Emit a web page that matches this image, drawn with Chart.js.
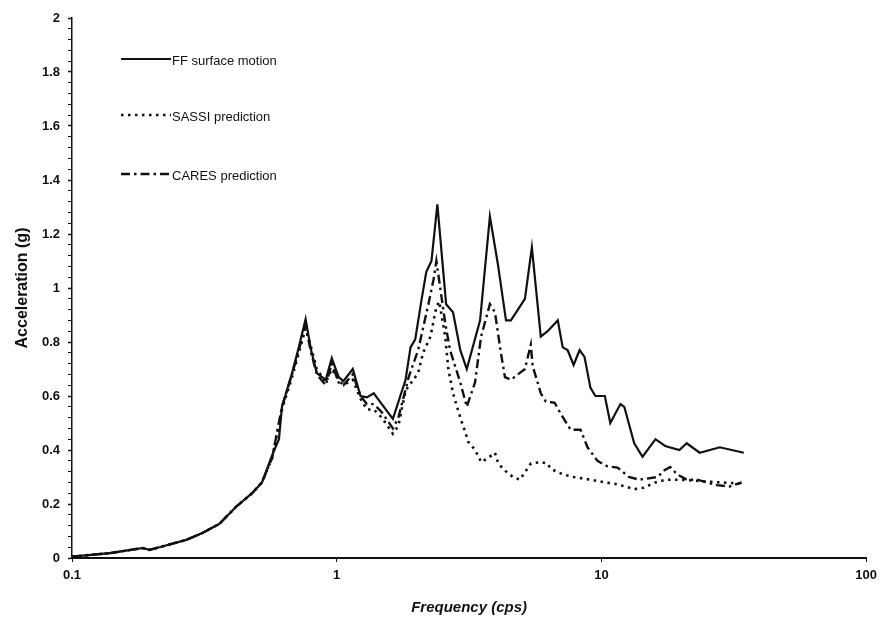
<!DOCTYPE html>
<html>
<head>
<meta charset="utf-8">
<script src="https://cdn.jsdelivr.net/npm/chart.js@4.4.1/dist/chart.umd.min.js"></script>
<style>
  html, body { margin: 0; padding: 0; background: #fff; }
  #wrap { width: 883px; height: 626px; }
</style>
</head>
<body>
<div id="wrap"><canvas id="myChart"></canvas></div>
<script>
// values (frequency in cps, acceleration in g)
var freqFF = [0.1, 0.139, 0.185, 0.196, 0.214, 0.270, 0.311, 0.360, 0.417, 0.479, 0.522, 0.570, 0.605, 0.621, 0.678, 0.719, 0.763,
  0.80, 0.841, 0.909, 0.958, 1.017, 1.06, 1.15, 1.23, 1.30, 1.38, 1.48, 1.63, 1.82, 1.90, 1.98, 2.09, 2.18, 2.28, 2.40,
  2.59, 2.75, 2.93, 3.10, 3.48, 3.79, 4.06, 4.36, 4.55, 5.14, 5.46, 5.90, 6.26, 6.84, 7.14, 7.45, 7.85, 8.27, 8.63,
  9.09, 9.49, 10.3, 10.8, 11.8, 12.2, 13.3, 14.3, 16.0, 17.4, 19.7, 21.0, 23.5, 28.0, 34.5];
var accFF = [0.005, 0.018, 0.037, 0.03, 0.04, 0.067, 0.093, 0.126, 0.19, 0.24, 0.28, 0.38, 0.44, 0.56, 0.685, 0.78, 0.885,
  0.77, 0.685, 0.66, 0.74, 0.67, 0.655, 0.70, 0.60, 0.595, 0.61, 0.57, 0.515, 0.66, 0.78, 0.81, 0.955, 1.06, 1.10, 1.31,
  0.94, 0.91, 0.77, 0.70, 0.88, 1.265, 1.09, 0.88, 0.88, 0.96, 1.15, 0.82, 0.84, 0.88, 0.78, 0.77, 0.715, 0.77, 0.745,
  0.63, 0.60, 0.60, 0.50, 0.57, 0.56, 0.425, 0.375, 0.44, 0.415, 0.40, 0.425, 0.39, 0.41, 0.39];

var freqSASSI = [0.1, 0.139, 0.185, 0.196, 0.214, 0.270, 0.311, 0.360, 0.417, 0.479, 0.522, 0.570, 0.621, 0.678, 0.719, 0.763,
  0.80, 0.841, 0.909, 0.958, 1.017, 1.06, 1.15, 1.23, 1.30, 1.38, 1.48, 1.63, 1.71, 1.82, 2.03, 2.12, 2.26, 2.38, 2.44,
  2.57, 2.64, 2.75, 2.93, 3.05, 3.14, 3.27, 3.42, 3.51, 3.73, 3.96, 4.06, 4.24, 4.63, 4.92, 5.41, 5.90, 6.26, 6.43,
  7.14, 7.85, 9.09, 10.3, 11.2, 12.3, 13.3, 14.4, 16.0, 17.5, 19.8, 23.5, 28.0, 34.5];
var accSASSI = [0.005, 0.018, 0.037, 0.03, 0.04, 0.067, 0.093, 0.126, 0.19, 0.24, 0.28, 0.37, 0.55, 0.67, 0.76, 0.85,
  0.78, 0.70, 0.65, 0.70, 0.66, 0.64, 0.66, 0.59, 0.55, 0.55, 0.52, 0.46, 0.49, 0.62, 0.685, 0.76, 0.82, 0.93, 0.95,
  0.82, 0.70, 0.61, 0.52, 0.47, 0.43, 0.41, 0.38, 0.355, 0.37, 0.39, 0.355, 0.33, 0.30, 0.29, 0.35, 0.355, 0.35, 0.33,
  0.31, 0.30, 0.29, 0.28, 0.275, 0.265, 0.255, 0.26, 0.28, 0.29, 0.29, 0.285, 0.28, 0.275];

var freqCARES = [0.1, 0.139, 0.185, 0.196, 0.214, 0.270, 0.311, 0.360, 0.417, 0.479, 0.522, 0.570, 0.621, 0.678, 0.719, 0.763,
  0.80, 0.841, 0.909, 0.958, 1.017, 1.06, 1.15, 1.23, 1.30, 1.38, 1.48, 1.63, 1.71, 1.87, 2.03, 2.22, 2.32, 2.38,
  2.57, 2.68, 2.93, 3.10, 3.33, 3.51, 3.79, 3.96, 4.17, 4.32, 4.55, 5.14, 5.41, 5.50, 5.74, 5.90, 6.16, 6.66, 7.01,
  7.65, 8.34, 8.86, 9.66, 10.5, 11.5, 12.7, 13.9, 16.3, 17.3, 18.2, 19.3, 21.0, 23.0, 25.0, 27.3, 30.5, 33.9];
var accCARES = [0.005, 0.018, 0.037, 0.03, 0.04, 0.067, 0.093, 0.126, 0.19, 0.24, 0.28, 0.37, 0.56, 0.68, 0.77, 0.86,
  0.76, 0.68, 0.64, 0.72, 0.65, 0.64, 0.68, 0.60, 0.57, 0.57, 0.54, 0.48, 0.52, 0.67, 0.77, 0.94, 1.03, 1.10,
  0.87, 0.77, 0.65, 0.56, 0.65, 0.82, 0.94, 0.91, 0.76, 0.67, 0.66, 0.70, 0.79, 0.71, 0.65, 0.61, 0.58, 0.575, 0.535,
  0.475, 0.475, 0.41, 0.36, 0.34, 0.335, 0.30, 0.29, 0.30, 0.325, 0.337, 0.31, 0.29, 0.29, 0.28, 0.27, 0.265, 0.28];

var seriesNames = ['FF surface motion', 'SASSI prediction', 'CARES prediction'];
var xTicks = [0.1, 1, 10, 100];
var yLabelStep = 0.2;   // labelled ticks
var yMinorStep = 0.04;  // small marks on the y axis

function toPoints(xs, ys) {
  return xs.map(function (x, i) { return { x: x, y: ys[i] }; });
}

function isMajor(v) {
  var r = v / yLabelStep;
  return Math.abs(r - Math.round(r)) < 1e-6;
}

var FONT = "'Liberation Sans', Arial, sans-serif";

// legend drawn inside the plot, line sample + text
var innerLegend = {
  id: 'innerLegend',
  afterDraw: function (chart) {
    var ctx = chart.ctx;
    var rows = [59, 115, 174];
    ctx.save();
    chart.data.datasets.forEach(function (ds, i) {
      var y = rows[i];
      ctx.beginPath();
      ctx.lineWidth = ds.borderWidth;
      ctx.strokeStyle = ds.borderColor;
      ctx.setLineDash(ds.borderDash || []);
      ctx.lineCap = 'butt';
      ctx.moveTo(121, y);
      ctx.lineTo(171, y);
      ctx.stroke();
      ctx.setLineDash([]);
      ctx.fillStyle = '#111';
      ctx.font = '13px ' + FONT;
      ctx.textBaseline = 'middle';
      ctx.textAlign = 'left';
      ctx.fillText(ds.label, 172, y + 2);
    });
    ctx.restore();
  }
};

var ctx = document.getElementById('myChart').getContext('2d');
var myChart = new Chart(ctx, {
  type: 'scatter',
  data: {
    datasets: [
      {
        label: seriesNames[0],
        data: toPoints(freqFF, accFF),
        showLine: true,
        borderColor: '#111',
        borderWidth: 2.2,
        pointRadius: 0,
        tension: 0
      },
      {
        label: seriesNames[1],
        data: toPoints(freqSASSI, accSASSI),
        showLine: true,
        borderColor: '#111',
        borderWidth: 2.6,
        borderDash: [2.5, 4.5],
        pointRadius: 0,
        tension: 0
      },
      {
        label: seriesNames[2],
        data: toPoints(freqCARES, accCARES),
        showLine: true,
        borderColor: '#111',
        borderWidth: 2.4,
        borderDash: [9, 4, 2.5, 4],
        pointRadius: 0,
        tension: 0
      }
    ]
  },
  options: {
    responsive: true,
    maintainAspectRatio: false,
    animation: false,
    layout: { padding: { top: 18, right: 15, bottom: 0, left: 0 } },
    scales: {
      x: {
        type: 'logarithmic',
        min: 0.1,
        max: 100,
        afterBuildTicks: function (axis) {
          axis.ticks = xTicks.map(function (v) { return { value: v }; });
        },
        afterFit: function (axis) { axis.height = 68; },
        border: { display: true, color: '#111', width: 2 },
        grid: { display: true, drawOnChartArea: false, tickLength: 4, color: '#111' },
        ticks: {
          color: '#111',
          padding: 6,
          maxRotation: 0,
          font: { family: FONT, size: 13, weight: 'bold' },
          callback: function (v) { return String(v); }
        },
        title: {
          display: true,
          text: 'Frequency (cps)',
          color: '#111',
          padding: { top: 4, bottom: 9 },
          font: { family: FONT, size: 15, weight: 'bold', style: 'italic' }
        }
      },
      y: {
        min: 0,
        max: 2,
        afterFit: function (axis) { axis.width = 72; },
        border: { display: true, color: '#111', width: 1.5 },
        grid: {
          display: true,
          drawOnChartArea: false,
          tickLength: 4,
          color: '#111',
          tickWidth: function (c) { return isMajor(c.tick.value) ? 1.5 : 1; }
        },
        ticks: {
          stepSize: yMinorStep,
          autoSkip: false,
          color: '#111',
          padding: 8,
          font: { family: FONT, size: 13, weight: 'bold' },
          callback: function (v) {
            return isMajor(v) ? String(Number(v.toFixed(1))) : '';
          }
        },
        title: {
          display: true,
          text: 'Acceleration (g)',
          color: '#111',
          padding: { top: 13, bottom: 4 },
          font: { family: FONT, size: 16, weight: 'bold' }
        }
      }
    },
    plugins: {
      legend: { display: false },
      tooltip: { enabled: false }
    }
  },
  plugins: [innerLegend]
});
</script>
</body>
</html>
